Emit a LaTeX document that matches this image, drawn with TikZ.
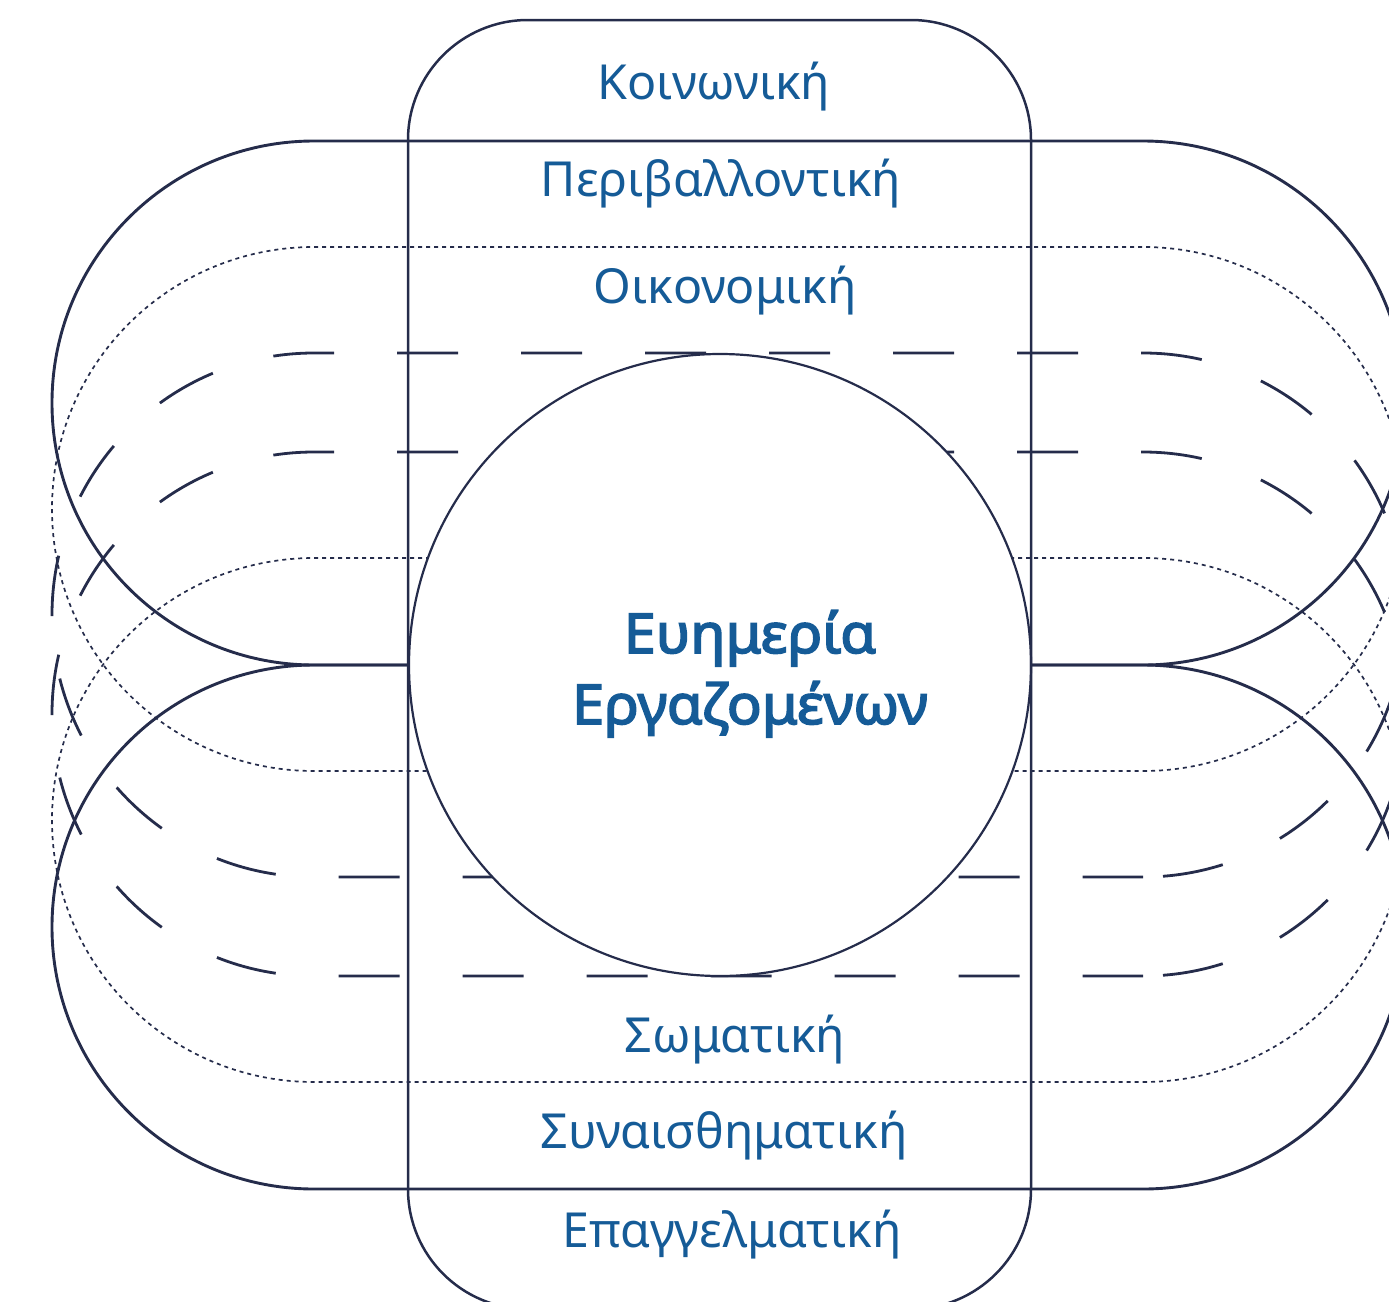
\documentclass[tikz,border=0pt]{standalone}
\usepackage{fontspec}
\setmainfont{Noto Sans}
\newfontfamily\centrefont{Noto Sans}[FakeBold=3,FakeStretch=1.05]
\definecolor{ln}{HTML}{252C4B}
\definecolor{tx}{HTML}{155B97}
\begin{document}
\begin{tikzpicture}[x=1pt,y=-1pt,
  solidline/.style={draw=ln, line width=2.9pt},
  dotline/.style={draw=ln, line width=1.7pt, dash pattern=on 4pt off 4pt},
  dashline/.style={draw=ln, line width=2.8pt, dash pattern=on 61pt off 63pt, dash phase=104pt},
  lbl/.style={text=tx, font=\fontsize{48.3}{58}\selectfont, anchor=base, inner sep=0pt},
  boldlbl/.style={text=tx, font=\centrefont\fontsize{55}{66}\selectfont, anchor=base, inner sep=0pt}]
\useasboundingbox (0,0) rectangle (1389,1301);
\clip (0,0) rectangle (1389,1301);
% solid horizontal stadiums
\draw[solidline] (1143,665) arc[start angle=90, end angle=-90, radius=262] -- (314,141) arc[start angle=-90, end angle=-270, radius=262] -- cycle;
\draw[solidline] (1143,1189) arc[start angle=90, end angle=-90, radius=262] -- (314,665) arc[start angle=-90, end angle=-270, radius=262] -- cycle;
% dotted stadiums
\draw[dotline] (1143,771) arc[start angle=90, end angle=-90, radius=262] -- (314,247) arc[start angle=-90, end angle=-270, radius=262] -- cycle;
\draw[dotline] (1143,1082) arc[start angle=90, end angle=-90, radius=262] -- (314,558) arc[start angle=-90, end angle=-270, radius=262] -- cycle;
% dashed stadiums
\draw[dashline] (1143,877) arc[start angle=90, end angle=-90, radius=262] -- (314,353) arc[start angle=-90, end angle=-270, radius=262] -- cycle;
\draw[dashline] (1143,976) arc[start angle=90, end angle=-90, radius=262] -- (314,452) arc[start angle=-90, end angle=-270, radius=262] -- cycle;
% central circle
\draw[draw=ln, line width=2.2pt, fill=white] (720,665) circle[radius=311];
% vertical stadium
\draw[draw=ln, line width=2.5pt, rounded corners=120pt] (408,20) rectangle (1031,1309);
% labels
\node[lbl] (t1) at (714,99) {Κοινωνική};
\node[lbl] (t2) at (721,196) {Περιβαλλοντική};
\node[lbl] (t3) at (725,303) {Οικονομική};
\node[boldlbl] (c1) at (750,653) {Ευημερία};
\node[boldlbl] (c2) at (750,724) {Εργαζομένων};
\node[lbl] (t5) at (735,1052) {Σωματική};
\node[lbl] (t6) at (724,1148) {Συναισθηματική};
\node[lbl] (t7) at (732,1247) {Επαγγελματική};
\end{tikzpicture}
\end{document}
